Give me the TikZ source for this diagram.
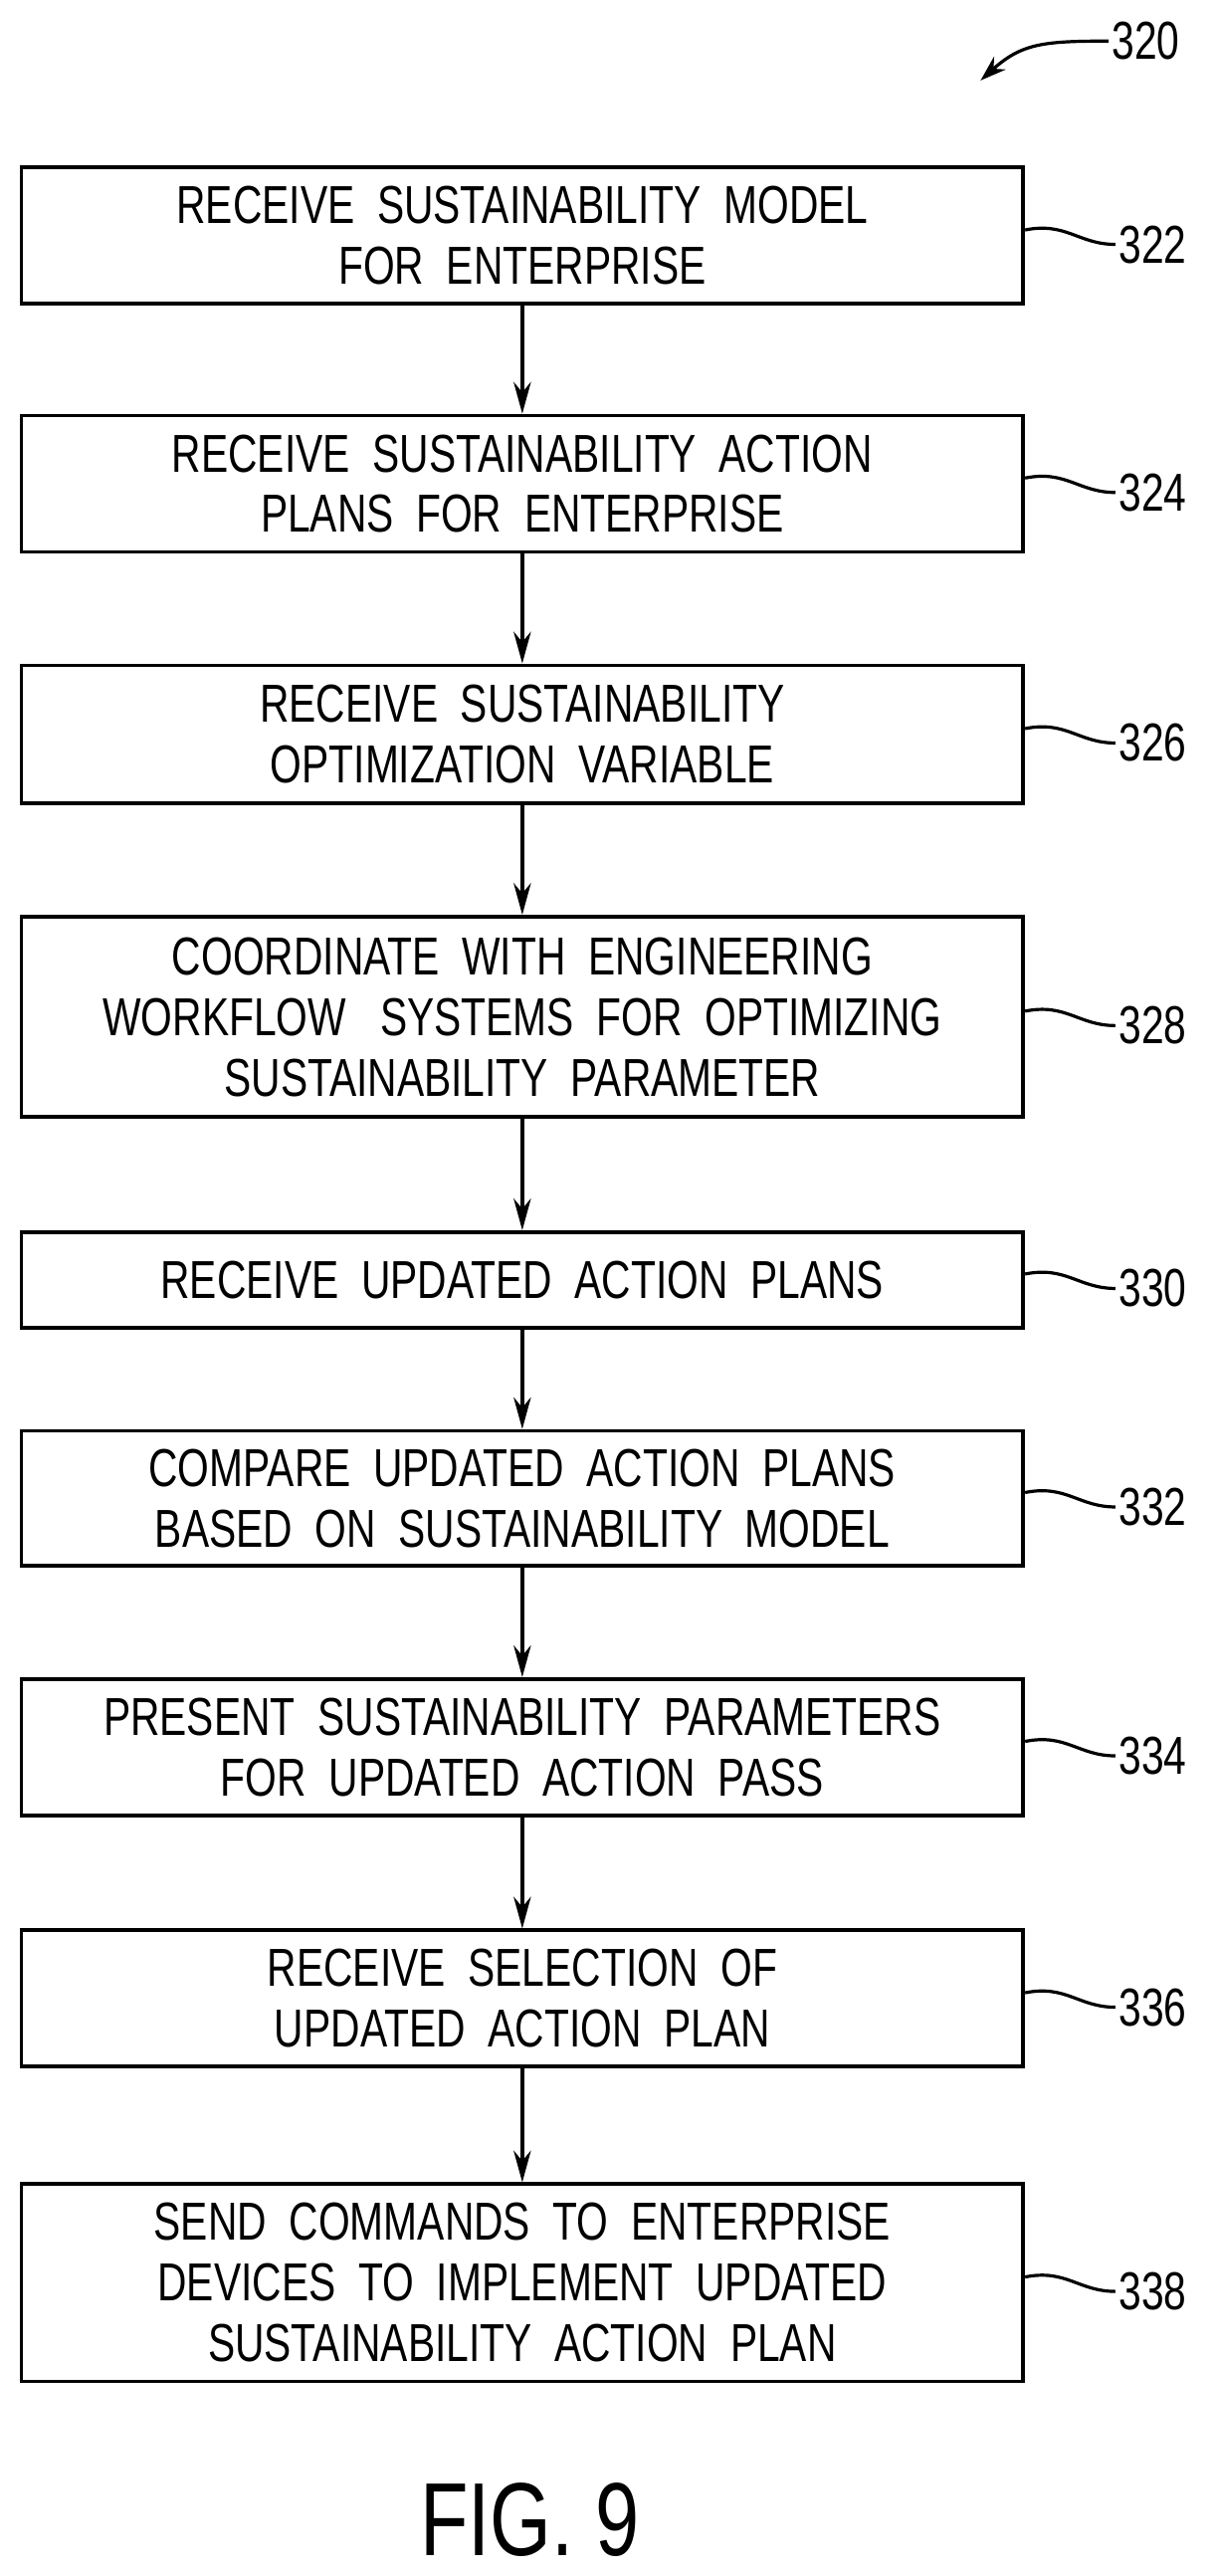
\documentclass[tikz,border=0pt]{standalone}
\usepackage{fontspec}
\setmainfont[FakeStretch=0.76]{Liberation Sans}
\usetikzlibrary{arrows.meta,positioning}

\begin{document}
\begin{tikzpicture}[
    stepbox/.style={rectangle, draw, line width=1.3pt, minimum width=12.2cm, align=center,
                    font=\fontsize{18.5}{21}\selectfont, inner sep=0pt},
    arrow/.style={-{Stealth[length=11pt,width=6pt]}, line width=1.2pt},
    reflabel/.style={anchor=west, font=\fontsize{18.5}{21}\selectfont, inner sep=1pt},
    leader/.style={line width=1.1pt}
]
\useasboundingbox (0,0) rectangle (14.8,-31.36);

% process steps
\node[stepbox, minimum height=1.66cm] (recvModel) at (6.36,-2.87) {RECEIVE\ \ SUSTAINABILITY\ \ MODEL\\FOR\ \ ENTERPRISE};
\node[stepbox, minimum height=1.66cm] (recvPlans) at (6.36,-5.89) {RECEIVE\ \ SUSTAINABILITY\ \ ACTION\\PLANS\ \ FOR\ \ ENTERPRISE};
\node[stepbox, minimum height=1.68cm] (recvVar) at (6.36,-8.94) {RECEIVE\ \ SUSTAINABILITY\\OPTIMIZATION\ \ VARIABLE};
\node[stepbox, minimum height=2.44cm] (coord) at (6.36,-12.38) {COORDINATE\ \ WITH\ \ ENGINEERING\\WORKFLOW\ \ \ SYSTEMS\ \ FOR\ \ OPTIMIZING\\SUSTAINABILITY\ \ PARAMETER};
\node[stepbox, minimum height=1.16cm] (recvUpd) at (6.36,-15.58) {RECEIVE\ \ UPDATED\ \ ACTION\ \ PLANS};
\node[stepbox, minimum height=1.64cm] (compare) at (6.36,-18.24) {COMPARE\ \ UPDATED\ \ ACTION\ \ PLANS\\BASED\ \ ON\ \ SUSTAINABILITY\ \ MODEL};
\node[stepbox, minimum height=1.66cm] (present) at (6.36,-21.27) {PRESENT\ \ SUSTAINABILITY\ \ PARAMETERS\\FOR\ \ UPDATED\ \ ACTION\ \ PASS};
\node[stepbox, minimum height=1.66cm] (recvSel) at (6.36,-24.33) {RECEIVE\ \ SELECTION\ \ OF\\UPDATED\ \ ACTION\ \ PLAN};
\node[stepbox, minimum height=2.40cm] (sendCmd) at (6.36,-27.79) {SEND\ \ COMMANDS\ \ TO\ \ ENTERPRISE\\DEVICES\ \ TO\ \ IMPLEMENT\ \ UPDATED\\SUSTAINABILITY\ \ ACTION\ \ PLAN};

% flow arrows
\draw[arrow] (recvModel) -- (recvPlans);
\draw[arrow] (recvPlans) -- (recvVar);
\draw[arrow] (recvVar) -- (coord);
\draw[arrow] (coord) -- (recvUpd);
\draw[arrow] (recvUpd) -- (compare);
\draw[arrow] (compare) -- (present);
\draw[arrow] (present) -- (recvSel);
\draw[arrow] (recvSel) -- (sendCmd);

% reference numerals
\foreach \b/\n in {recvModel/322, recvPlans/324, recvVar/326, coord/328, recvUpd/330,
                   compare/332, present/334, recvSel/336, sendCmd/338} {
    \node[reflabel] (lbl\n) at ([xshift=1.1cm, yshift=-3pt]\b.east) {\n};
    \draw[leader] ([yshift=2pt]\b.east) .. controls +(0.5,0.1) and +(-0.45,0) .. (lbl\n.west);
}

% figure numeral
\node[reflabel] (lbl320) at (13.5,-0.5) {320};
\draw[leader, -{Stealth[length=9pt,width=6pt]}] (lbl320.west) .. controls +(-0.8,0) and +(0.5,0.45) .. (11.94,-0.98);

% caption
\node[font=\fontsize{36}{40}\selectfont, inner sep=0pt] (caption) at (6.45,-30.68) {FIG. 9};
\end{tikzpicture}
\end{document}
